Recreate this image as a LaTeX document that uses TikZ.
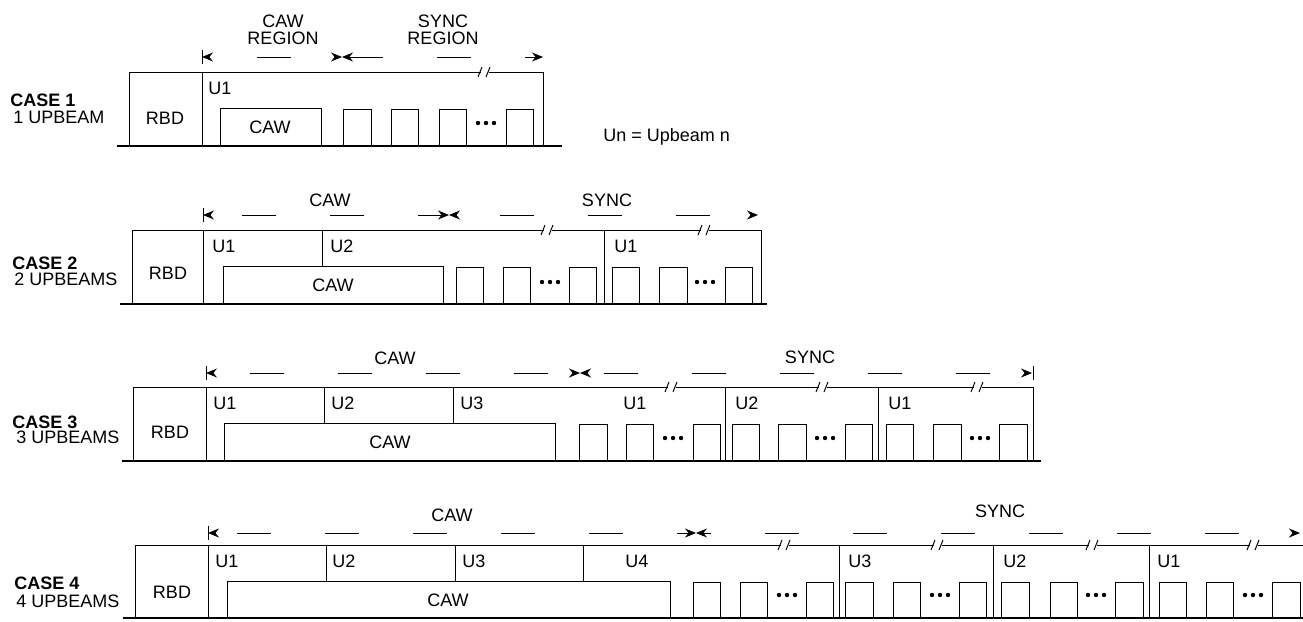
\documentclass[tikz,border=0pt]{standalone}
\usepackage{fontspec}
\setmainfont{Liberation Sans}
\usetikzlibrary{arrows.meta}
\newcommand{\diafont}{\fontsize{9}{8.6}\selectfont}
\newcommand{\gapmark}[2]{%
  \fill[white] (#1-4,#2-4) rectangle (#1+4,#2+4);
  \draw[rim] (#1-7,#2+5) -- (#1-3,#2-5) (#1+1,#2+5) -- (#1+5,#2-5);}

\begin{document}
\begin{tikzpicture}[x=0.5pt,y=-0.5pt,font=\diafont,
  >={Stealth[length=5.5pt,width=4.5pt]},
  rim/.style={line width=0.5pt},
  floor/.style={line width=1.1pt},
  span/.style={rim,<->,dash pattern=on 17pt off 27pt},
  every node/.style={inner sep=0}]
\useasboundingbox (0,0) rectangle (1303,622);

% case 1
\node[align=center] (h1caw) at (283,30) {CAW\\REGION};
\node[align=center] (h1sync) at (443,30) {SYNC\\REGION};
\draw[rim] (202,50) -- (202,64);
\draw[span,dash phase=20pt] (202,57) -- (342,57);
\draw[span,dash phase=0pt] (342,57) -- (543,57);
\draw[rim] (129,146) -- (129,72) -- (543,72) -- (543,146);
\draw[rim] (202,72) -- (202,146);
\draw[rim] (220,146) |- (321,108) -- (321,146);
\draw[rim] (343,109) rectangle (371,146) (391,109) rectangle (418,146)
  (439,109) rectangle (466,146) (506,109) rectangle (533,146);
\fill (478,123) circle (2.2) (486,123) circle (2.2) (494,123) circle (2.2);
\gapmark{485}{72}
\draw[floor] (117,146) -- (562,146);
\node (rbd1) at (165,118) {RBD};
\node[anchor=west] (u11) at (208,88) {U1};
\node (caw1) at (270,127) {CAW};
\node[anchor=west,font=\diafont\bfseries] (case1) at (10,100) {CASE 1};
\node[anchor=west] (beams1) at (13,117) {1 UPBEAM};
\node[anchor=west] (key) at (603,137) {Un = Upbeam n};

% case 2
\node (h2caw) at (330,200) {CAW};
\node (h2sync) at (607,200) {SYNC};
\draw[rim] (203,208) -- (203,222);
\draw[span,dash phase=28pt] (203,215) -- (449,215);
\draw[span,dash phase=22pt] (449,215) -- (758,215);
\draw[rim] (132,304) -- (132,230) -- (761,230) -- (761,304);
\draw[rim] (203,230) -- (203,304);
\draw[rim] (322,230) -- (322,266);
\draw[rim] (223,304) |- (443,266) -- (443,304);
\draw[rim] (604,230) -- (604,304);
\draw[rim] (456,267) rectangle (483,304) (503,267) rectangle (530,304)
  (569,267) rectangle (596,304) (612,267) rectangle (639,304)
  (659,267) rectangle (687,304) (725,267) rectangle (752,304);
\fill (542,282) circle (2.2) (550,282) circle (2.2) (558,282) circle (2.2);
\fill (697,282) circle (2.2) (705,282) circle (2.2) (713,282) circle (2.2);
\gapmark{548}{230}
\gapmark{705}{230}
\draw[floor] (120,304) -- (767,304);
\node (rbd2) at (168,273) {RBD};
\node[anchor=west] (u21) at (212,246) {U1};
\node[anchor=west] (u22) at (330,246) {U2};
\node[anchor=west] (u23) at (614,246) {U1};
\node (caw2) at (333,285) {CAW};
\node[anchor=west,font=\diafont\bfseries] (case2) at (12,263) {CASE 2};
\node[anchor=west] (beams2) at (14,279) {2 UPBEAMS};

% case 3
\node (h3caw) at (395,358) {CAW};
\node (h3sync) at (810,357) {SYNC};
\draw[rim] (206,366) -- (206,380);
\draw[rim] (1033,366) -- (1033,380);
\draw[span,dash phase=25.5pt] (206,373) -- (580,373);
\draw[span,dash phase=35.5pt] (580,373) -- (1032,373);
\draw[rim] (133,461) -- (133,387) -- (1033,387) -- (1033,461);
\draw[rim] (206,387) -- (206,461);
\draw[rim] (324,387) -- (324,423);
\draw[rim] (453,387) -- (453,423);
\draw[rim] (224,461) |- (555,423) -- (555,461);
\draw[rim] (725,387) -- (725,461);
\draw[rim] (878,387) -- (878,461);
\draw[rim] (579,424) rectangle (607,461) (626,424) rectangle (653,461)
  (693,424) rectangle (720,461) (732,424) rectangle (759,461)
  (778,424) rectangle (806,461) (845,424) rectangle (872,461)
  (886,424) rectangle (913,461) (933,424) rectangle (961,461)
  (999,424) rectangle (1027,461);
\fill (665,438) circle (2.2) (673,438) circle (2.2) (681,438) circle (2.2);
\fill (817,438) circle (2.2) (825,438) circle (2.2) (833,438) circle (2.2);
\fill (972,438) circle (2.2) (980,438) circle (2.2) (988,438) circle (2.2);
\gapmark{672}{387}
\gapmark{823}{387}
\gapmark{978}{387}
\draw[floor] (122,461) -- (1041,461);
\node (rbd3) at (170,432) {RBD};
\node[anchor=west] (u31) at (213,403) {U1};
\node[anchor=west] (u32) at (331,403) {U2};
\node[anchor=west] (u33) at (460,403) {U3};
\node[anchor=west] (u34) at (623,403) {U1};
\node[anchor=west] (u35) at (735,403) {U2};
\node[anchor=west] (u36) at (888,403) {U1};
\node (caw3) at (390,442) {CAW};
\node[anchor=west,font=\diafont\bfseries] (case3) at (12,422) {CASE 3};
\node[anchor=west] (beams3) at (16,437) {3 UPBEAMS};

% case 4
\node (h4caw) at (452,515) {CAW};
\node (h4sync) at (1000,511) {SYNC};
\draw[rim] (208,526) -- (208,540);
\draw[span,dash phase=33pt] (208,533) -- (696,533);
\draw[span,dash phase=13pt] (696,533) -- (1300,533);
\draw[rim] (135,618) -- (135,545) -- (1303,545);
\draw[rim] (208,545) -- (208,618);
\draw[rim] (326,545) -- (326,581);
\draw[rim] (455,545) -- (455,581);
\draw[rim] (583,545) -- (583,581);
\draw[rim] (227,618) |- (670,581) -- (670,618);
\draw[rim] (839,545) -- (839,618);
\draw[rim] (993,545) -- (993,618);
\draw[rim] (1149,545) -- (1149,618);
\draw[rim] (693,582) rectangle (720,618) (740,582) rectangle (767,618)
  (806,582) rectangle (833,618) (845,582) rectangle (873,618)
  (893,582) rectangle (920,618) (959,582) rectangle (986,618)
  (1001,582) rectangle (1029,618) (1050,582) rectangle (1077,618)
  (1115,582) rectangle (1143,618) (1159,582) rectangle (1186,618)
  (1206,582) rectangle (1233,618) (1272,582) rectangle (1300,618);
\fill (779,595) circle (2.2) (787,595) circle (2.2) (795,595) circle (2.2);
\fill (932,595) circle (2.2) (940,595) circle (2.2) (948,595) circle (2.2);
\fill (1088,595) circle (2.2) (1096,595) circle (2.2) (1104,595) circle (2.2);
\fill (1245,595) circle (2.2) (1253,595) circle (2.2) (1261,595) circle (2.2);
\gapmark{785}{545}
\gapmark{938}{545}
\gapmark{1093}{545}
\gapmark{1254}{545}
\draw[floor] (123,618) -- (1303,618);
\node (rbd4) at (172,592) {RBD};
\node[anchor=west] (u41) at (215,561) {U1};
\node[anchor=west] (u42) at (332,561) {U2};
\node[anchor=west] (u43) at (462,561) {U3};
\node[anchor=west] (u44) at (625,561) {U4};
\node[anchor=west] (u45) at (848,561) {U3};
\node[anchor=west] (u46) at (1003,561) {U2};
\node[anchor=west] (u47) at (1157,561) {U1};
\node (caw4) at (448,600) {CAW};
\node[anchor=west,font=\diafont\bfseries] (case4) at (14,583) {CASE 4};
\node[anchor=west] (beams4) at (16,601) {4 UPBEAMS};
\end{tikzpicture}
\end{document}
